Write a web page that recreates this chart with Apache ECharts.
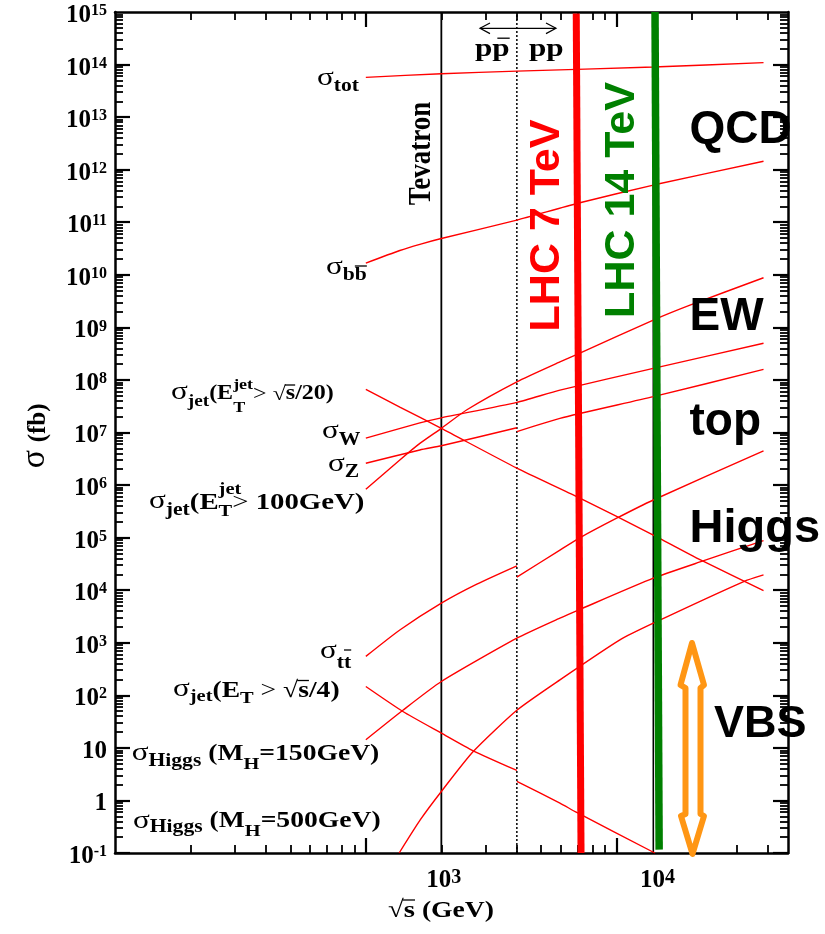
<!DOCTYPE html>
<html>
<head>
<meta charset="utf-8">
<title>Cross sections versus collider energy</title>
<script src="https://cdn.jsdelivr.net/npm/echarts@6.0.0/dist/echarts.min.js"></script>
<style>
  html, body { margin: 0; padding: 0; background: #ffffff; }
  #chart { width: 825px; height: 934px; }
</style>
</head>
<body>
<div id="chart"></div>
<script>
// ---- cross sections: [√s in GeV, σ in fb]; pp̄ below 4 TeV, pp above ----
const sigmaTot = [[1000, 5.7e13], [2000, 6.7e13], [4000, 7.5e13], [14000, 9.0e13], [38500, 1.09e14]];
const sigmaBBbar = [[1000, 1.67e10], [1366, 2.9e10], [1642, 3.8e10], [2000, 4.9e10], [4000, 1.1e11], [7000, 2.3e11], [14000, 5.1e11], [38500, 1.45e12]];
const sigmaJetEtS20 = [[1000, 6.6e7], [1366, 3.05e7], [2000, 1.2e7], [4000, 2.1e6], [7000, 5.9e5], [14000, 1.12e5], [22000, 3.6e4], [38500, 9.8e3]];
const sigmaW = [[1000, 7.8e6], [1642, 1.52e7], [2000, 1.9e7], [4000, 3.75e7], [5940, 6.4e7], [14000, 1.66e8], [38500, 5.0e8]];
const sigmaZppbar = [[1000, 2.6e6], [1642, 4.65e6], [2000, 5.6e6], [4000, 1.23e7]];
const sigmaZpp = [[4000, 1.04e7], [5940, 1.86e7], [14000, 4.8e7], [38500, 1.59e8]];
const sigmaJet100 = [[1000, 8.3e5], [1366, 3.0e6], [1642, 6.2e6], [2000, 1.2e7], [2520, 2.68e7], [4000, 9.2e7], [5940, 2.2e8], [7100, 3.2e8], [14000, 1.38e9], [19600, 2.65e9], [38500, 8.8e9]];
const sigmaTTppbar = [[1000, 550], [1366, 1750], [2000, 5660], [2770, 1.3e4], [4000, 2.9e4]];
const sigmaTTpp = [[4000, 1.77e4], [5940, 5.8e4], [7070, 9.7e4], [10000, 2.34e5], [14000, 5.2e5], [38500, 4.45e6]];
const sigmaJetEtS4ppbar = [[1000, 147], [1405, 49.2], [2000, 19.1], [2680, 8.8], [4000, 3.72]];
const sigmaJetEtS4pp = [[4000, 2.3], [5940, 0.89], [6930, 0.59], [14200, 0.1]];
const sigmaHiggs150 = [[1000, 14.3], [1405, 52], [2000, 183], [4000, 1220], [5940, 2940], [7070, 4230], [14000, 1.69e4], [22100, 3.6e4], [38500, 8.8e4]];
const sigmaHiggs500 = [[1358, 0.1], [1650, 0.43], [2000, 1.48], [2680, 8.5], [4000, 52], [5940, 197], [10300, 1135], [14000, 2360], [32100, 1.46e4], [38500, 1.95e4]];

// ---- collider energies (vertical markers) ----
const tevatronLine = [[2000, 0.1], [2000, 1e15]];
const ppTransitionLine = [[4000, 0.1], [4000, 1e15]];
const lhc14RefLine = [[14000, 0.1], [14000, 1e15]];
const lhc7Band = [[7210, 0.1], [6900, 9.4e14]];
const lhc14Band = [[14770, 0.116], [14220, 1e15]];

// ---- axes ----
const X_MIN = 100, X_MAX = 48200;
const Y_MIN = 0.1, Y_MAX = 1e15;
const xMajorTicks = [1000, 10000];
const xTickLabelValues = [1000, 10000];
const xTickLabelExponents = [3, 4];
const yDecades = [-1, 0, 1, 2, 3, 4, 5, 6, 7, 8, 9, 10, 11, 12, 13, 14, 15];
const LABEL_AXIS_MIN = 28.9, LABEL_AXIS_MAX = 40800;

const xMinorTicks = [];
[100, 1000, 10000].forEach(d => { for (let k = 2; k <= 9; k++) xMinorTicks.push(k * d); });
const yMajorTicks = yDecades.map(n => Math.pow(10, n));
// keep the top decade inside the axis extent despite rounding
const yLabelValues = yMajorTicks.map(v => Math.min(v, Y_MAX * (1 - 1e-9)));
const yMinorTicks = [];
yDecades.slice(0, -1).forEach(n => { for (let k = 2; k <= 9; k++) yMinorTicks.push(k * Math.pow(10, n)); });

const SERIF = '"Liberation Serif", "Times New Roman", serif';
const SANS = '"Liberation Sans", Arial, Helvetica, sans-serif';

const powRich = {
  b: { fontFamily: SERIF, fontWeight: 'bold', fontSize: 25, lineHeight: 25, verticalAlign: 'bottom', color: '#000' },
  s: { fontFamily: SERIF, fontWeight: 'bold', fontSize: 16, lineHeight: 14, verticalAlign: 'top', color: '#000' },
  s2: { fontFamily: SERIF, fontWeight: 'bold', fontSize: 20, lineHeight: 14, verticalAlign: 'top', color: '#000' }
};

function powerLabel(v) {
  const n = Math.round(Math.log10(v));
  if (n === 0) return '{b|1}';
  if (n === 1) return '{b|10}';
  return '{b|10}{s|' + n + '}';
}

function baseAxis(extra) {
  return Object.assign({
    type: 'log', logBase: 10,
    splitLine: { show: false },
    axisLine: { show: false },
    axisTick: { show: false },
    axisLabel: { show: false },
    silent: true
  }, extra);
}

const AXIS_LINE = { show: true, lineStyle: { color: '#000', width: 2.5 } };
function majorTick(values) { return { show: true, inside: true, length: 15, customValues: values, lineStyle: { color: '#000', width: 2.2 } }; }
function minorTickOf(values) { return { show: true, inside: true, length: 8, customValues: values, lineStyle: { color: '#000', width: 1.8 } }; }

const xAxes = [
  baseAxis({ position: 'bottom', min: X_MIN, max: X_MAX, axisLine: AXIS_LINE, axisTick: majorTick(xMajorTicks) }),
  baseAxis({ position: 'bottom', min: X_MIN, max: X_MAX, axisTick: minorTickOf(xMinorTicks) }),
  baseAxis({ position: 'top', min: X_MIN, max: X_MAX, axisLine: AXIS_LINE, axisTick: majorTick(xMajorTicks) }),
  baseAxis({ position: 'top', min: X_MIN, max: X_MAX, axisTick: minorTickOf(xMinorTicks) }),
  baseAxis({
    position: 'bottom', min: LABEL_AXIS_MIN, max: LABEL_AXIS_MAX,
    axisLabel: {
      show: true, margin: 15, customValues: xTickLabelValues, rich: powRich,
      formatter: v => {
        const i = xTickLabelValues.indexOf(v);
        return '{b|10}{s2|' + (i >= 0 ? xTickLabelExponents[i] : Math.round(Math.log10(v))) + '}';
      }
    }
  })
];

const yAxes = [
  baseAxis({
    position: 'left', min: Y_MIN, max: Y_MAX, axisLine: AXIS_LINE, axisTick: majorTick(yMajorTicks),
    axisLabel: {
      show: true, margin: 8, customValues: yLabelValues, rich: powRich, padding: [7, 0, 0, 0],
      showMinLabel: true, showMaxLabel: true, hideOverlap: false, formatter: powerLabel
    }
  }),
  baseAxis({ position: 'left', min: Y_MIN, max: Y_MAX, axisTick: minorTickOf(yMinorTicks) }),
  baseAxis({ position: 'right', min: Y_MIN, max: Y_MAX, axisLine: AXIS_LINE, axisTick: majorTick(yMajorTicks) }),
  baseAxis({ position: 'right', min: Y_MIN, max: Y_MAX, axisTick: minorTickOf(yMinorTicks) })
];

// ---- series ----
function curve(name, data) {
  return {
    name, type: 'line', xAxisIndex: 0, yAxisIndex: 0, data,
    symbol: 'none', showSymbol: false, smooth: 0.2,
    lineStyle: { color: '#ff0000', width: 1.4 }, silent: true, z: 3
  };
}
function marker(name, data, color, width, dash, z) {
  return {
    name, type: 'line', xAxisIndex: 0, yAxisIndex: 0, data,
    symbol: 'none', showSymbol: false,
    lineStyle: { color, width, type: dash || 'solid' }, silent: true, z
  };
}

const series = [
  marker('Tevatron', tevatronLine, '#000', 1.8, null, 2),
  marker('pp̄ / pp', ppTransitionLine, '#000', 1.5, [2, 2], 2),
  marker('LHC 14 TeV ref', lhc14RefLine, '#000', 1.6, null, 2),
  curve('σtot', sigmaTot),
  curve('σbb', sigmaBBbar),
  curve('σjet(ET > √s/20)', sigmaJetEtS20),
  curve('σW', sigmaW),
  curve('σZ pp̄', sigmaZppbar),
  curve('σZ pp', sigmaZpp),
  curve('σjet(ET > 100GeV)', sigmaJet100),
  curve('σtt pp̄', sigmaTTppbar),
  curve('σtt pp', sigmaTTpp),
  curve('σjet(ET > √s/4) pp̄', sigmaJetEtS4ppbar),
  curve('σjet(ET > √s/4) pp', sigmaJetEtS4pp),
  curve('σHiggs 150', sigmaHiggs150),
  curve('σHiggs 500', sigmaHiggs500),
  marker('LHC 7 TeV', lhc7Band, '#ff0000', 7, null, 6),
  marker('LHC 14 TeV', lhc14Band, '#008000', 7.5, null, 6)
];

// ---- annotation text (serif labels are drawn 20% wider) ----
const STRETCH = 1.2;
const mctx = document.createElement('canvas').getContext('2d');
function advance(t, size, weight) {
  mctx.font = (weight || 'bold') + ' ' + size + 'px ' + SERIF;
  return mctx.measureText(t).width * STRETCH;
}
function textEl(t, x, baseline, size, weight) {
  return {
    type: 'text', x, y: baseline - 0.3375 * size, scaleX: STRETCH, z: 100, silent: true,
    style: { text: t, fontFamily: SERIF, fontSize: size, fontWeight: weight || 'bold', fill: '#000', align: 'left', verticalAlign: 'middle' }
  };
}
function barEl(x1, x2, y) {
  return { type: 'line', z: 100, silent: true, shape: { x1, y1: y, x2, y2: y }, style: { stroke: '#000', lineWidth: 1.3 } };
}
function mathLabel(x0, base, pieces) {
  const out = [];
  let x = x0;
  pieces.forEach(p => {
    if (p.stack) {
      const ws = p.stack.map(q => { out.push(textEl(q.t, x, base + q.dy, q.size, q.w)); return advance(q.t, q.size, q.w); });
      x += p.adv === 'last' ? ws[ws.length - 1] : Math.max.apply(null, ws);
      return;
    }
    const w = advance(p.t, p.size, p.w);
    const b = base + (p.dy || 0);
    out.push(textEl(p.t, x, b, p.size, p.w));
    if (p.bar !== undefined) out.push(barEl(x + (p.barFrom || 0), x + w, b + p.bar));
    x += w;
  });
  return out;
}
const SIG = { t: 'σ', size: 26, w: 'normal' };
function sig(dy) { return Object.assign({}, SIG, { dy: dy || 0 }); }

const curveLabels = [].concat(
  mathLabel(317, 87, [sig(), { t: 'tot', size: 18, dy: 5 }]),
  mathLabel(326, 276, [sig(), { t: 'b', size: 18, dy: 5.5 }, { t: 'b', size: 18, dy: 5.5, bar: -15.5 }]),
  mathLabel(171, 401, [sig(), { t: 'jet', size: 16, dy: 6 }, { t: '(E', size: 20 },
    { stack: [{ t: 'jet', size: 15, dy: -11 }, { t: 'T', size: 15, dy: 12 }], adv: 'max' },
    { t: '>', size: 20, w: 'normal' }, { t: ' ', size: 20 }, { t: '√', size: 20, w: 'normal' },
    { t: 's', size: 20, bar: -16, barFrom: -1 }, { t: '/20)', size: 20 }]),
  mathLabel(322, 440, [sig(), { t: 'W', size: 18, dy: 6.5 }]),
  mathLabel(328, 472.5, [sig(), { t: 'Z', size: 18, dy: 6 }]),
  mathLabel(149, 511, [sig(-1), { t: 'jet', size: 18, dy: 5 }, { t: '(E', size: 24 },
    { stack: [{ t: 'jet', size: 17, dy: -16 }, { t: 'T', size: 17, dy: 6 }], adv: 'last' },
    { t: '>', size: 24, w: 'normal' }, { t: ' 100GeV)', size: 24 }]),
  mathLabel(320, 660, [sig(), { t: 't', size: 18, dy: 9 }, { t: 't', size: 18, dy: 9, bar: -19 }]),
  mathLabel(173, 699, [sig(-1), { t: 'jet', size: 17, dy: 3 }, { t: '(E', size: 23 }, { t: 'T', size: 17, dy: 5 },
    { t: ' > ', size: 23, w: 'normal' }, { t: '√', size: 23, w: 'normal' },
    { t: 's', size: 23, bar: -18.5, barFrom: -1 }, { t: '/4)', size: 23 }]),
  mathLabel(131.7, 762, [sig(), { t: 'Higgs', size: 18, dy: 5 }, { t: ' (M', size: 23 }, { t: 'H', size: 17, dy: 8 }, { t: '=150GeV)', size: 23 }]),
  mathLabel(133, 829, [sig(1), { t: 'Higgs', size: 18, dy: 4 }, { t: ' (M', size: 23 }, { t: 'H', size: 17, dy: 8 }, { t: '=500GeV)', size: 23 }]),
  // x-axis title
  mathLabel(388, 919, [{ t: '√', size: 24, w: 'normal' }, { t: 's', size: 24, bar: -19, barFrom: -1 }, { t: ' (GeV)', size: 23 }]),
  // pp̄ / pp above the transition
  mathLabel(475, 57.7, [{ t: 'p', size: 26 }, { t: 'p', size: 26, bar: -19.5, barFrom: 5 }]),
  mathLabel(529, 57.7, [{ t: 'pp', size: 26 }])
);

function sansText(t, x, baseline, size, color, extra) {
  return Object.assign({
    type: 'text', x, y: baseline - 0.3465 * size, z: 100, silent: true,
    style: { text: t, fontFamily: SANS, fontSize: size, fontWeight: 'bold', fill: color || '#000', align: 'left', verticalAlign: 'middle' }
  }, extra || {});
}

const graphics = curveLabels.concat([
  // y-axis title, rotated
  {
    type: 'group', x: 47, y: 468.3, rotation: Math.PI / 2, z: 100, silent: true,
    children: [
      { type: 'text', x: 0, y: -0.3375 * 34, style: { text: 'σ', fontFamily: SERIF, fontSize: 34, fill: '#000', align: 'left', verticalAlign: 'middle' } },
      { type: 'text', x: 26, y: -0.3375 * 25, style: { text: '(fb)', fontFamily: SERIF, fontSize: 25, fontWeight: 'bold', fill: '#000', align: 'left', verticalAlign: 'middle' } }
    ]
  },
  {
    type: 'text', x: 421.5, y: 153.5, rotation: Math.PI / 2, scaleY: STRETCH, z: 100, silent: true,
    style: { text: 'Tevatron', fontFamily: SERIF, fontSize: 27, fontWeight: 'bold', fill: '#000', align: 'center', verticalAlign: 'middle' }
  },
  {
    type: 'text', x: 547.5, y: 225.5, rotation: Math.PI / 2, z: 100, silent: true,
    style: { text: 'LHC 7 TeV', fontFamily: SANS, fontSize: 43, fontWeight: 'bold', fill: '#ff0000', align: 'center', verticalAlign: 'middle' }
  },
  {
    type: 'text', x: 622.5, y: 200, rotation: Math.PI / 2, z: 100, silent: true,
    style: { text: 'LHC 14 TeV', fontFamily: SANS, fontSize: 43, fontWeight: 'bold', fill: '#008000', align: 'center', verticalAlign: 'middle' }
  },
  sansText('QCD', 689.5, 146.7, 46),
  sansText('EW', 689.5, 333.5, 46),
  sansText('top', 689.5, 438.5, 46),
  sansText('Higgs', 689.5, 545, 47),
  sansText('VBS', 714, 740, 45),
  // double arrow between pp̄ and pp
  { type: 'polyline', z: 100, silent: true, shape: { points: [[480, 28.3], [556, 28.3]] }, style: { stroke: '#000', lineWidth: 1.2, fill: null } },
  { type: 'polyline', z: 100, silent: true, shape: { points: [[490, 23], [480, 28.3], [490, 33.6]] }, style: { stroke: '#000', lineWidth: 1.2, fill: null } },
  { type: 'polyline', z: 100, silent: true, shape: { points: [[546, 23], [556, 28.3], [546, 33.6]] }, style: { stroke: '#000', lineWidth: 1.2, fill: null } },
  // hollow VBS double arrow
  {
    type: 'polygon', z: 100, silent: true,
    shape: { points: [[692, 643], [704, 685], [700.5, 688], [700.5, 814], [704, 816], [692.5, 854], [681, 816], [685.5, 814], [685.5, 688], [680.5, 685]] },
    style: { fill: '#ffffff', stroke: '#ff9614', lineWidth: 6, lineJoin: 'round' }
  }
]);

const chart = echarts.init(document.getElementById('chart'), null, { renderer: 'canvas' });
chart.setOption({
  animation: false,
  backgroundColor: '#ffffff',
  grid: { left: 115, right: 37, top: 12, bottom: 81, containLabel: false, outerBoundsMode: 'none' },
  xAxis: xAxes,
  yAxis: yAxes,
  series,
  graphic: graphics
});
</script>
</body>
</html>
